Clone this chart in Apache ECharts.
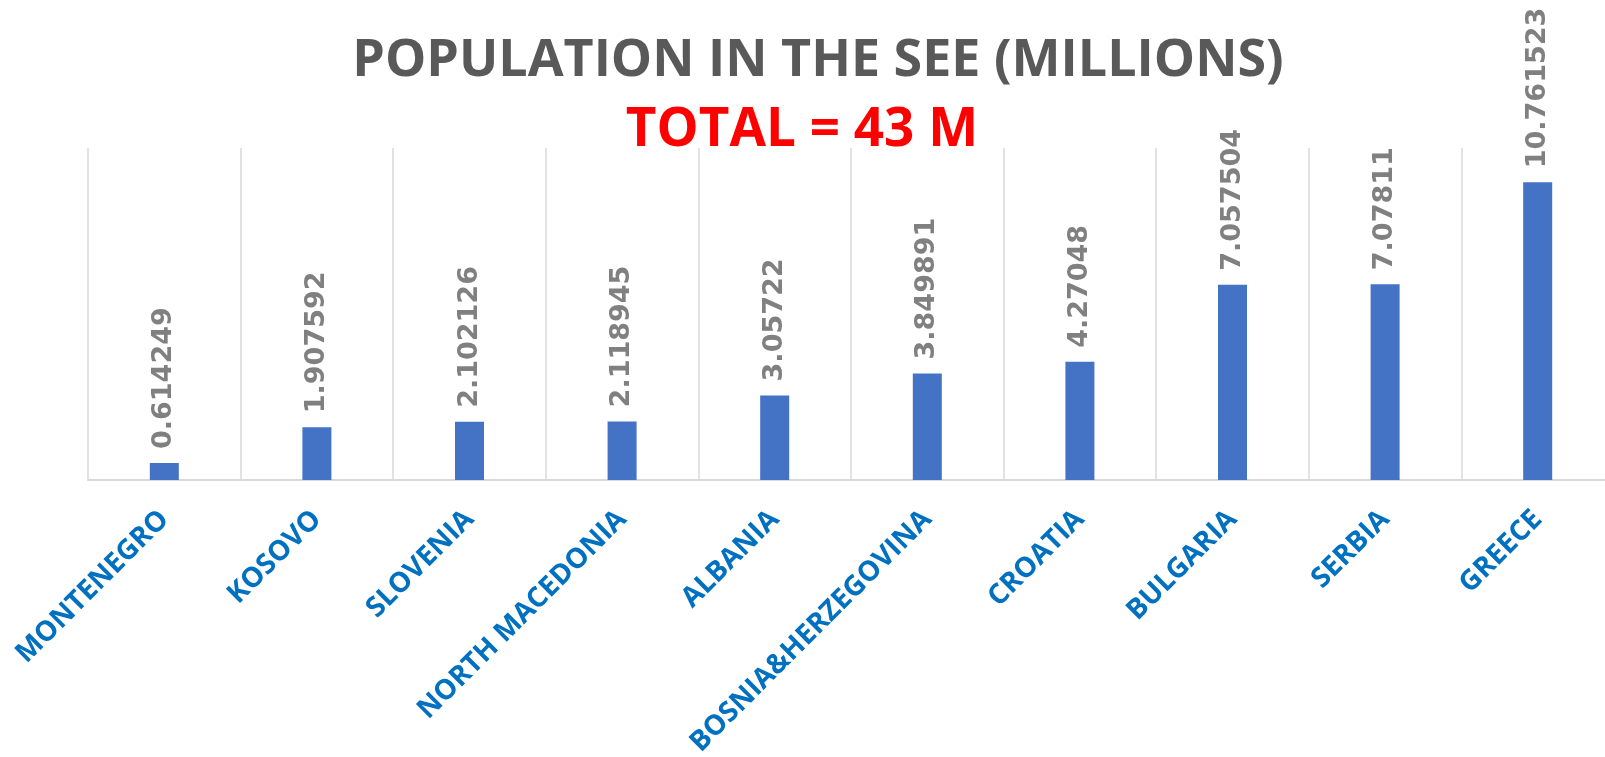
<!DOCTYPE html>
<html>
<head>
<meta charset="utf-8">
<script src="https://cdn.jsdelivr.net/npm/echarts@6/dist/echarts.min.js"></script>
<style>
html,body{margin:0;padding:0;background:#fff;}
#chart{width:1605px;height:757px;}
</style>
</head>
<body>
<div id="chart"></div>
<script>
const categories = ['MONTENEGRO','KOSOVO','SLOVENIA','NORTH MACEDONIA','ALBANIA','BOSNIA&HERZEGOVINA','CROATIA','BULGARIA','SERBIA','GREECE'];
const population = [0.614249, 1.907592, 2.102126, 2.118945, 3.05722, 3.849891, 4.27048, 7.057504, 7.07811, 10.761523];
const titleText = 'POPULATION IN THE SEE (MILLIONS)';
const subtitleText = 'TOTAL = 43 M';

const chart = echarts.init(document.getElementById('chart'));
chart.setOption({
  animation: false,
  backgroundColor: '#ffffff',
  title: [
    {
      text: titleText,
      left: 813,
      textAlign: 'center',
      top: 30,
      textStyle: {fontFamily: 'Open Sans', fontWeight: 'bold', fontSize: 52, color: '#595959'}
    },
    {
      text: subtitleText,
      left: 797,
      textAlign: 'center',
      top: 99,
      textStyle: {fontFamily: 'Open Sans', fontWeight: 'bold', fontSize: 53, color: '#FF0000'}
    }
  ],
  grid: {left: 88, top: 148, width: 1526, height: 332, containLabel: false, outerBoundsMode: 'none'},
  xAxis: {
    type: 'category',
    data: categories,
    boundaryGap: true,
    axisLine: {show: true, lineStyle: {color: '#D9D9D9', width: 2}},
    axisTick: {show: false},
    splitLine: {show: true, lineStyle: {color: '#D9D9D9', width: 1.5}},
    axisLabel: {
      interval: 0,
      rotate: 45,
      margin: 35,
      fontFamily: 'Open Sans',
      fontWeight: 'bold',
      fontSize: 28,
      color: '#0070C0'
    }
  },
  yAxis: {
    type: 'value',
    min: 0,
    max: 12,
    show: false,
    splitLine: {show: false}
  },
  series: [{
    type: 'bar',
    data: population,
    barWidth: 29,
    itemStyle: {color: '#4472C4'},
    label: {
      show: true,
      position: 'top',
      rotate: 90,
      align: 'left',
      verticalAlign: 'middle',
      distance: 14,
      fontFamily: 'DejaVu Sans',
      fontWeight: 'bold',
      fontSize: 27,
      color: '#808080',
      formatter: p => String(p.value)
    }
  }]
});
</script>
</body>
</html>
